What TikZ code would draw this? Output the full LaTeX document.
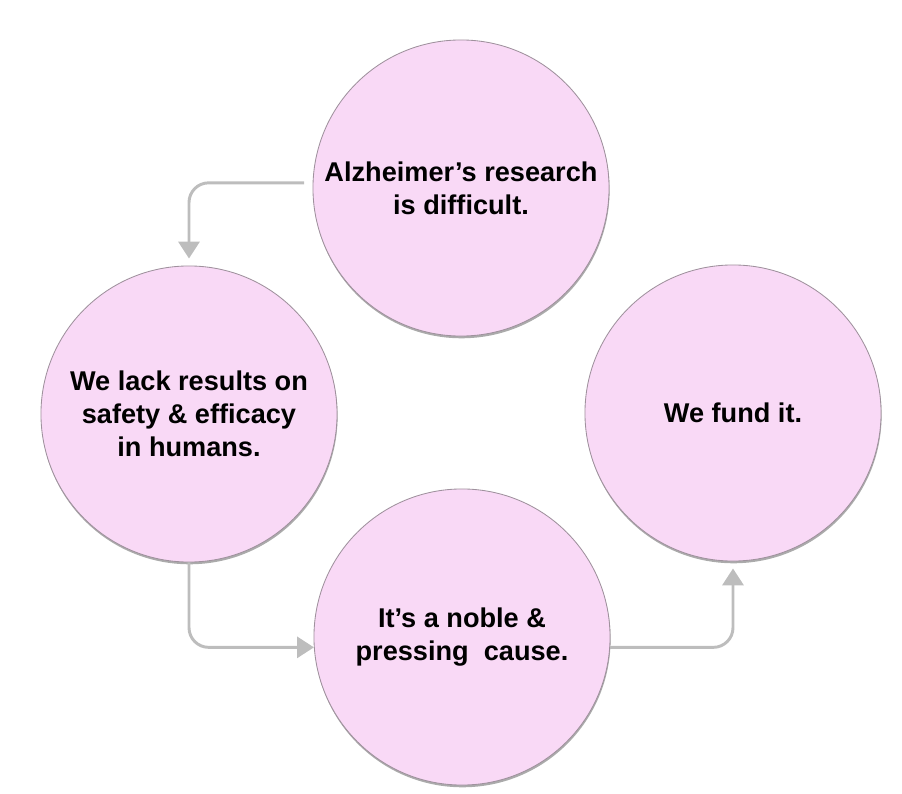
\documentclass[tikz,border=0pt]{standalone}
\usepackage{fontspec}
\setmainfont{Liberation Sans}
\usepackage{tikz}
\usetikzlibrary{arrows.meta,positioning,shadows}

\definecolor{bubblefill}{HTML}{F9D9F6}
\definecolor{bubbleline}{HTML}{9F919D}
\definecolor{flowgray}{HTML}{BDBDBD}

\begin{document}
\begin{tikzpicture}[x=0.025cm,y=-0.025cm]

\tikzset{
  bubble/.style={circle, draw=bubbleline, fill=bubblefill, line width=0.6pt,
                 minimum size=7.4cm, inner sep=0pt, align=center,
                 font=\fontsize{19.3}{23.5}\selectfont\bfseries,
                 drop shadow={shadow xshift=0.4pt, shadow yshift=-1.6pt,
                              fill=black!55, opacity=0.6}},
  flow/.style={flowgray, line width=2.1pt, rounded corners=14pt,
               -{Triangle[length=12pt, width=15pt]}}
}

% Frame
\useasboundingbox (0,0) rectangle (902,794);

% Cycle
\node[bubble] (hard)  at (461,188) {Alzheimer's research\\is difficult.};
\node[bubble] (lack)  at (189,414) {We lack results on\\safety \& efficacy\\in humans.};
\node[bubble] (cause) at (462,637) {It's a noble \&\\pressing\ \ cause.};
\node[bubble] (fund)  at (733,413) {We fund it.};

% Lines
\draw[flow] ([xshift=-6pt]hard.178) -| ([yshift=5pt]lack.north);
\draw[flow] (lack.south) |- (cause.184);
\draw[flow] (cause.356) -| ([yshift=-5pt]fund.south);

\end{tikzpicture}
\end{document}
